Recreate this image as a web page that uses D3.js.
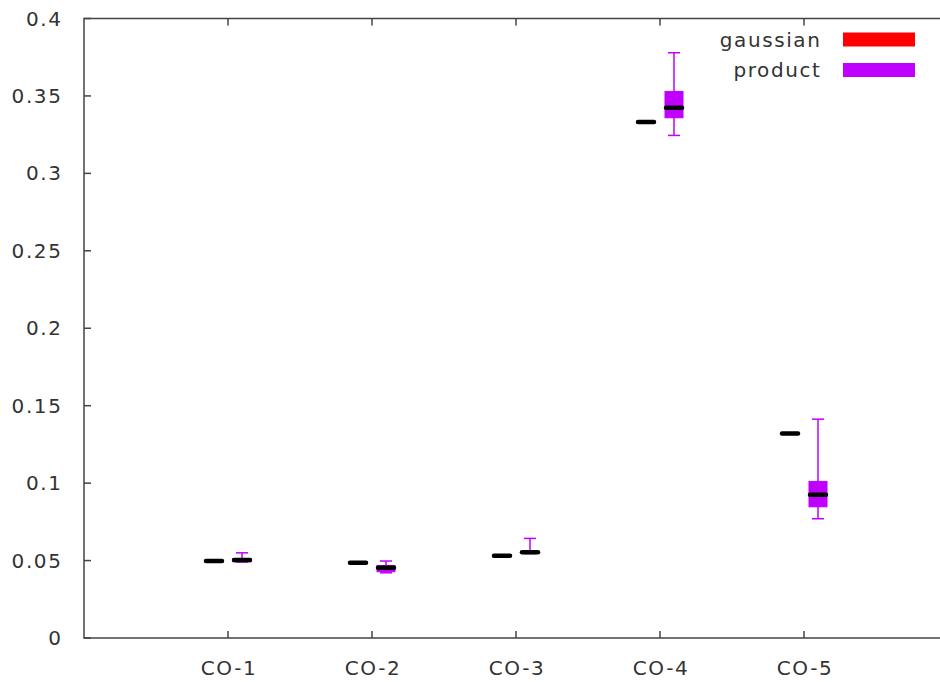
<!DOCTYPE html>
<html>
<head>
<meta charset="utf-8">
<script src="https://cdn.jsdelivr.net/npm/d3@7"></script>
<style>
  html, body { margin: 0; padding: 0; background: #fff; overflow: hidden; }
  text { font-family: "DejaVu Sans", sans-serif; font-size: 20px; letter-spacing: 1.6px; fill: #333; }
</style>
</head>
<body>
<div id="chart"></div>
<script>
// categories and tick labels
var categories = ["CO-1", "CO-2", "CO-3", "CO-4", "CO-5"];
var yTicks = [0, 0.05, 0.1, 0.15, 0.2, 0.25, 0.3, 0.35, 0.4];
var yTickLabels = ["0", "0.05", "0.1", "0.15", "0.2", "0.25", "0.3", "0.35", "0.4"];

// box stats per category: [min, q1, median, q3, max]
var gaussian = [
  [0.0496, 0.0496, 0.0497, 0.0498, 0.0498],
  [0.0485, 0.0485, 0.0486, 0.0487, 0.0487],
  [0.0530, 0.0530, 0.0531, 0.0532, 0.0532],
  [0.3329, 0.3329, 0.3331, 0.3333, 0.3333],
  [0.1319, 0.1319, 0.1320, 0.1321, 0.1321]
];
var product = [
  [0.0490, 0.0492, 0.0503, 0.0512, 0.0550],
  [0.0421, 0.0428, 0.0454, 0.0468, 0.0497],
  [0.0545, 0.0547, 0.0553, 0.0558, 0.0643],
  [0.3245, 0.3359, 0.3424, 0.3529, 0.3779],
  [0.0770, 0.0847, 0.0925, 0.1011, 0.1413]
];
var seriesNames = ["gaussian", "product"];
var seriesColors = ["#ff0000", "#c000ff"];

var W = 940, H = 682;
var margin = { top: 18.5, right: -8, bottom: 44, left: 84 };

var svg = d3.select("#chart").append("svg")
  .attr("width", W).attr("height", H);

// category i sits at i+1 on a 0..6 linear axis
var x = d3.scaleLinear().domain([0, 6]).range([margin.left, W - margin.right]);
var y = d3.scaleLinear().domain([0, 0.4]).range([H - margin.bottom, margin.top]);

var axisColor = "#444";
var tickLen = 7;

// y axis labels + ticks (left and mirrored right)
yTicks.forEach(function(t, i) {
  svg.append("text")
    .attr("x", 62.5).attr("y", y(t))
    .attr("text-anchor", "end").attr("dominant-baseline", "central")
    .text(yTickLabels[i]);
  svg.append("line")
    .attr("x1", x(0)).attr("x2", x(0) + tickLen)
    .attr("y1", y(t)).attr("y2", y(t))
    .attr("stroke", axisColor).attr("stroke-width", 1.5);
  svg.append("line")
    .attr("x1", x(6)).attr("x2", x(6) - tickLen)
    .attr("y1", y(t)).attr("y2", y(t))
    .attr("stroke", axisColor).attr("stroke-width", 1.5);
});

// x axis labels + ticks (bottom and mirrored top)
categories.forEach(function(c, i) {
  svg.append("text")
    .attr("x", x(i + 1) + 1).attr("y", 675)
    .attr("text-anchor", "middle")
    .text(c);
  svg.append("line")
    .attr("x1", x(i + 1)).attr("x2", x(i + 1))
    .attr("y1", y(0)).attr("y2", y(0) - tickLen)
    .attr("stroke", axisColor).attr("stroke-width", 1.5);
  svg.append("line")
    .attr("x1", x(i + 1)).attr("x2", x(i + 1))
    .attr("y1", y(0.4)).attr("y2", y(0.4) + tickLen)
    .attr("stroke", axisColor).attr("stroke-width", 1.5);
});

// frame
svg.append("rect")
  .attr("x", x(0)).attr("y", y(0.4))
  .attr("width", x(6) - x(0)).attr("height", y(0) - y(0.4))
  .attr("fill", "none").attr("stroke", axisColor).attr("stroke-width", 1.5);

var boxW = 18, capW = 12, offset = 14;

function drawBoxes(data, color, dx) {
  data.forEach(function(d, i) {
    var cx = x(i + 1) + dx;
    var g = svg.append("g");
    // whisker
    g.append("line")
      .attr("x1", cx).attr("x2", cx)
      .attr("y1", y(d[0])).attr("y2", y(d[4]))
      .attr("stroke", color).attr("stroke-width", 1.5);
    [d[0], d[4]].forEach(function(v) {
      g.append("line")
        .attr("x1", cx - capW / 2).attr("x2", cx + capW / 2)
        .attr("y1", y(v)).attr("y2", y(v))
        .attr("stroke", color).attr("stroke-width", 1.5);
    });
    // box
    g.append("rect")
      .attr("x", cx - boxW / 2).attr("y", y(d[3]))
      .attr("width", boxW).attr("height", Math.max(1, y(d[1]) - y(d[3])))
      .attr("fill", color).attr("stroke", color).attr("stroke-width", 1);
    // median
    g.append("line")
      .attr("x1", cx - boxW / 2 + 1).attr("x2", cx + boxW / 2 - 1)
      .attr("y1", y(d[2])).attr("y2", y(d[2]))
      .attr("stroke", "#000").attr("stroke-width", 4.5)
      .attr("stroke-linecap", "round");
  });
}

drawBoxes(gaussian, seriesColors[0], -offset);
drawBoxes(product, seriesColors[1], offset);

// legend
seriesNames.forEach(function(n, i) {
  var yc = 39.5 + i * 30.5;
  svg.append("text")
    .attr("x", 821.5).attr("y", yc + 7)
    .attr("text-anchor", "end")
    .text(n);
  svg.append("rect")
    .attr("x", 843).attr("y", yc - 7)
    .attr("width", 72).attr("height", 14)
    .attr("fill", seriesColors[i]);
});
</script>
</body>
</html>
